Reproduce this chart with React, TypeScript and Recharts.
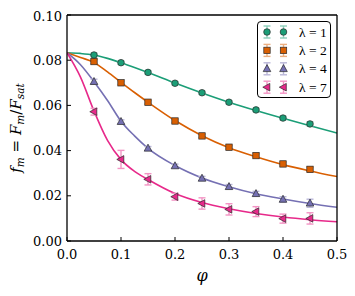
import React from 'react';
import { ComposedChart, Line, Scatter, XAxis, YAxis, ErrorBar } from 'recharts';

// ---- data ----
const phiPoints = [0.05, 0.1, 0.15, 0.2, 0.25, 0.3, 0.35, 0.4, 0.45];
const lam1Points = [0.0823, 0.0789, 0.0746, 0.0698, 0.0656, 0.0614, 0.058, 0.0544, 0.0518];
const lam1Err = [0.0008, 0.0007, 0.0007, 0.0007, 0.0007, 0.0007, 0.0007, 0.0008, 0.0009];
const lam2Points = [0.0794, 0.07, 0.0614, 0.0531, 0.0465, 0.0415, 0.0378, 0.0341, 0.0317];
const lam2Err = [0.0009, 0.0008, 0.0008, 0.0008, 0.0008, 0.0008, 0.0008, 0.0009, 0.001];
const lam4Points = [0.0705, 0.0528, 0.041, 0.0332, 0.0277, 0.024, 0.0209, 0.0184, 0.0167];
const lam4Err = [0.0011, 0.0008, 0.0008, 0.0008, 0.0009, 0.001, 0.0011, 0.0012, 0.0018];
const lam7Points = [0.0572, 0.0361, 0.0273, 0.0196, 0.0166, 0.014, 0.013, 0.0099, 0.01];
const lam7Err = [0.0015, 0.004, 0.0025, 0.0015, 0.0025, 0.0025, 0.0022, 0.002, 0.0025];

const phiCurve = [0, 0.025, 0.05, 0.075, 0.1, 0.125, 0.15, 0.2, 0.25, 0.3, 0.35, 0.4, 0.45, 0.5];
const lam1Curve = [0.0833, 0.083, 0.0823, 0.0808, 0.0789, 0.0768, 0.0746, 0.0699, 0.0655, 0.0614, 0.0577, 0.0543, 0.051, 0.0478];
const lam2Curve = [0.0833, 0.0812, 0.079, 0.0748, 0.0702, 0.0657, 0.0614, 0.0533, 0.0466, 0.0413, 0.0373, 0.0338, 0.031, 0.0285];
const lam4Curve = [0.0833, 0.078, 0.0705, 0.0622, 0.053, 0.0465, 0.041, 0.0334, 0.0279, 0.024, 0.0209, 0.0186, 0.0166, 0.0149];
const lam7Curve = [0.0833, 0.0725, 0.0575, 0.0445, 0.036, 0.0308, 0.0272, 0.021, 0.017, 0.0143, 0.0122, 0.0106, 0.0094, 0.0085];

const xTicks = [0, 0.1, 0.2, 0.3, 0.4, 0.5];
const yTicks = [0, 0.02, 0.04, 0.06, 0.08, 0.1];
const lambdaLabels = ['λ = 1', 'λ = 2', 'λ = 4', 'λ = 7'];

// ---- styles ----
const colors = ['#1b9e77', '#d95f02', '#7570b3', '#e7298a'];
const errColors = ['#8dcebb', '#ecaf80', '#bab7d9', '#f394c4'];
const markerKinds = ['circle', 'square', 'triUp', 'triLeft'];
const FONT = "'DejaVu Serif', serif";
const LEGEND_FONT = "'Liberation Serif', serif";

const pointSets = [
  [lam1Points, lam1Err],
  [lam2Points, lam2Err],
  [lam4Points, lam4Err],
  [lam7Points, lam7Err],
].map(([vals, errs]) => phiPoints.map((phi, i) => ({ phi, f: vals[i], err: errs[i] })));

const curveSets = [lam1Curve, lam2Curve, lam4Curve, lam7Curve].map((vals) =>
  phiCurve.map((phi, i) => ({ phi, f: vals[i] }))
);

function Marker({ kind, cx, cy, fill }: { kind: string; cx: number; cy: number; fill: string }) {
  const common = { fill, stroke: '#2a2a2a', strokeWidth: 0.7 };
  if (kind === 'circle') return <circle cx={cx} cy={cy} r={3.3} {...common} />;
  if (kind === 'square') return <rect x={cx - 3.2} y={cy - 3.2} width={6.4} height={6.4} {...common} />;
  if (kind === 'triUp')
    return <polygon points={`${cx},${cy - 4.2} ${cx - 3.8},${cy + 2.8} ${cx + 3.8},${cy + 2.8}`} {...common} />;
  return <polygon points={`${cx - 4.2},${cy} ${cx + 2.8},${cy - 3.8} ${cx + 2.8},${cy + 3.8}`} {...common} />;
}

const YLabel = (props: any) => {
  const vb = props.viewBox || { x: 0, y: 7, width: 59, height: 226 };
  const cx = vb.x + 13;
  const cy = vb.y + vb.height / 2;
  return (
    <text
      x={0}
      y={0}
      transform={`translate(${cx},${cy}) rotate(-90)`}
      textAnchor="middle"
      fontFamily={FONT}
      fontSize={15}
      fill="#000"
    >
      <tspan fontStyle="italic">f</tspan>
      <tspan fontStyle="italic" fontSize={10.5} dy={3}>m</tspan>
      <tspan dy={-3}> = </tspan>
      <tspan fontStyle="italic">F</tspan>
      <tspan fontStyle="italic" fontSize={10.5} dy={3}>m</tspan>
      <tspan dy={-3}>/</tspan>
      <tspan fontStyle="italic">F</tspan>
      <tspan fontStyle="italic" fontSize={10.5} dy={3}>sat</tspan>
    </text>
  );
};

const XLabel = (props: any) => {
  const vb = props.viewBox || { x: 59, y: 233, width: 270, height: 50 };
  return (
    <text x={vb.x + vb.width / 2} y={vb.y + 40} textAnchor="middle" fontFamily={FONT} fontStyle="italic" fontSize={16} fill="#000">
      φ
    </text>
  );
};

function LegendBox() {
  return (
    <div
      style={{
        position: 'absolute',
        left: 249,
        top: 13,
        width: 74,
        height: 77,
        border: '1.3px solid #000',
        borderRadius: 4,
        background: '#fff',
        boxSizing: 'border-box',
        overflow: 'visible',
      }}
    >
      <svg width={74} height={77} style={{ position: 'absolute', left: -1, top: -1, overflow: 'visible' }}>
        {lambdaLabels.map((lab, i) => {
          const cy = 11 + i * 18.4;
          return (
            <g key={lab}>
              {[10, 26.5].map((mx) => (
                <g key={mx}>
                  <line x1={mx} y1={cy - 6} x2={mx} y2={cy + 6} stroke={errColors[i]} strokeWidth={1.4} />
                  <line x1={mx - 3.5} y1={cy - 6} x2={mx + 3.5} y2={cy - 6} stroke={errColors[i]} strokeWidth={1.4} />
                  <line x1={mx - 3.5} y1={cy + 6} x2={mx + 3.5} y2={cy + 6} stroke={errColors[i]} strokeWidth={1.4} />
                  <Marker kind={markerKinds[i]} cx={mx} cy={cy} fill={colors[i]} />
                </g>
              ))}
              <text x={42} y={cy + 4.5} fontFamily={LEGEND_FONT} fontSize={13.5} fill="#000">
                {lab}
              </text>
            </g>
          );
        })}
      </svg>
    </div>
  );
}

export default function App() {
  const tickStyle = { fontFamily: FONT, fontSize: 13, fill: '#000' };
  return (
    <div style={{ position: 'relative', width: 347, height: 288 }}>
      <ComposedChart width={347} height={288} margin={{ top: 6, right: 17, bottom: 5, left: 0 }}>
        <XAxis
          dataKey="phi"
          type="number"
          domain={[0, 0.5]}
          ticks={xTicks}
          allowDataOverflow
          tickFormatter={(v: number) => v.toFixed(1)}
          tick={tickStyle}
          tickSize={-4}
          tickMargin={13}
          height={50}
          stroke="#000"
          axisLine={{ stroke: '#000', strokeWidth: 1.3 }}
          tickLine={{ stroke: '#000', strokeWidth: 1 }}
          label={{ content: XLabel }}
        />
        <XAxis
          xAxisId="top"
          orientation="top"
          dataKey="phi"
          type="number"
          domain={[0, 0.5]}
          ticks={xTicks}
          allowDataOverflow
          tick={false}
          tickSize={-4}
          height={1}
          axisLine={{ stroke: '#000', strokeWidth: 1.3 }}
          tickLine={{ stroke: '#000', strokeWidth: 1 }}
        />
        <YAxis
          type="number"
          domain={[0, 0.1]}
          ticks={yTicks}
          allowDataOverflow
          tickFormatter={(v: number) => v.toFixed(2)}
          tick={tickStyle}
          tickSize={-4}
          tickMargin={9}
          width={59}
          axisLine={{ stroke: '#000', strokeWidth: 1.3 }}
          tickLine={{ stroke: '#000', strokeWidth: 1 }}
          label={{ content: YLabel }}
        />
        <YAxis
          yAxisId="right"
          orientation="right"
          type="number"
          domain={[0, 0.1]}
          ticks={yTicks}
          allowDataOverflow
          tick={false}
          tickSize={-4}
          width={1}
          axisLine={{ stroke: '#000', strokeWidth: 1.3 }}
          tickLine={{ stroke: '#000', strokeWidth: 1 }}
        />
        {curveSets.map((d, i) => (
          <Line
            key={'c' + i}
            data={d}
            dataKey="f"
            type="monotone"
            stroke={colors[i]}
            strokeWidth={1.6}
            dot={false}
            activeDot={false}
            isAnimationActive={false}
          />
        ))}
        {pointSets.map((d, i) => (
          <Scatter
            key={'s' + i}
            data={d}
            dataKey="f"
            isAnimationActive={false}
            shape={(p: any) => <Marker kind={markerKinds[i]} cx={p.cx} cy={p.cy} fill={colors[i]} />}
          >
            <ErrorBar dataKey="err" direction="y" width={3.5} stroke={errColors[i]} strokeWidth={1.4} isAnimationActive={false} />
          </Scatter>
        ))}
      </ComposedChart>
      <LegendBox />
    </div>
  );
}
